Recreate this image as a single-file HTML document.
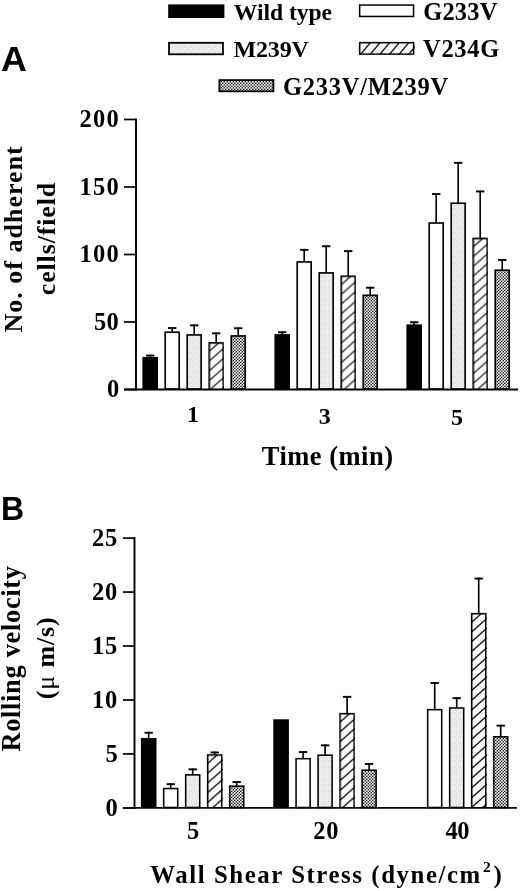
<!DOCTYPE html>
<html><head><meta charset="utf-8"><title>Figure</title>
<style>
html,body{margin:0;padding:0;background:#fff;}
body{width:520px;height:891px;overflow:hidden;font-family:"Liberation Serif",serif;}
svg{display:block;will-change:transform;}
text{fill:#000;}
</style></head><body>
<svg width="520" height="891" viewBox="0 0 520 891">
<defs>
<pattern id="pl" width="2.4" height="2.4" patternUnits="userSpaceOnUse"><rect width="2.4" height="2.4" fill="#fdfdfd"/><circle cx="0.6" cy="0.6" r="0.5" fill="#aaa"/><circle cx="1.8" cy="1.8" r="0.5" fill="#aaa"/></pattern>
<pattern id="pd" width="3" height="3" patternUnits="userSpaceOnUse"><rect width="3" height="3" fill="#242424"/><rect x="0" y="0" width="1.65" height="1.65" fill="#fff"/><rect x="1.5" y="1.5" width="1.65" height="1.65" fill="#fff"/></pattern>
</defs>
<rect width="520" height="891" fill="#fff"/>

<rect x="168.2" y="4.4" width="56.2" height="13.6" fill="#000"/>
<rect x="359.65" y="5.05" width="53.9" height="11.4" fill="#fff" stroke="#000" stroke-width="1.5"/>
<rect x="169.0" y="42.8" width="54.0" height="11.5" fill="url(#pl)" stroke="#000" stroke-width="1.8"/>
<svg x="358.9" y="41.9" width="55.4" height="12.9" viewBox="0 0 55.4 12.9">
<rect width="55.4" height="12.9" fill="#fff"/>
<path d="M-0.29 14.9L13.65 -2M9.31 14.9L23.25 -2M18.91 14.9L32.85 -2M28.51 14.9L42.45 -2M38.11 14.9L52.05 -2M47.71 14.9L61.65 -2M57.31 14.9L71.25 -2M66.91 14.9L80.85 -2" stroke="#000" stroke-width="1.3" fill="none"/>
<rect x="0.75" y="0.75" width="53.9" height="11.4" fill="none" stroke="#000" stroke-width="1.5"/>
</svg>
<rect x="219.4" y="80.1" width="54.0" height="11.2" fill="url(#pd)" stroke="#000" stroke-width="1.8"/>
<text x="233.8" y="19.7" font-size="23.6" font-family='"Liberation Serif", serif' font-weight="bold" letter-spacing="-0.034">Wild type</text>
<text x="423.2" y="19.5" font-size="24.5" font-family='"Liberation Serif", serif' font-weight="bold" letter-spacing="0.173">G233V</text>
<text x="233.4" y="57.1" font-size="24" font-family='"Liberation Serif", serif' font-weight="bold" letter-spacing="-0.138">M239V</text>
<text x="423" y="57.1" font-size="24.5" font-family='"Liberation Serif", serif' font-weight="bold" letter-spacing="0.689">V234G</text>
<text x="283" y="95" font-size="24.5" font-family='"Liberation Serif", serif' font-weight="bold" letter-spacing="0.732">G233V/M239V</text>
<text transform="translate(0.9,70.8) scale(1.035,1)" font-size="34.6" font-family='"Liberation Sans", sans-serif' font-weight="bold">A</text>
<text transform="translate(1.1,520.2) scale(0.95,1)" font-size="33.8" font-family='"Liberation Sans", sans-serif' font-weight="bold">B</text>
<line x1="124" y1="389.5" x2="136" y2="389.5" stroke="#000" stroke-width="1.7"/>
<text x="107.0" y="397.2" font-size="24.5" font-family='"Liberation Serif", serif' font-weight="bold">0</text>
<line x1="124" y1="322.0" x2="136" y2="322.0" stroke="#000" stroke-width="1.7"/>
<text x="94.0" y="329.7" font-size="24.5" font-family='"Liberation Serif", serif' font-weight="bold" letter-spacing="0.25">50</text>
<line x1="124" y1="254.5" x2="136" y2="254.5" stroke="#000" stroke-width="1.7"/>
<text x="79.5" y="262.2" font-size="24.5" font-family='"Liberation Serif", serif' font-weight="bold" letter-spacing="1.25">100</text>
<line x1="124" y1="187.0" x2="136" y2="187.0" stroke="#000" stroke-width="1.7"/>
<text x="79.5" y="194.7" font-size="24.5" font-family='"Liberation Serif", serif' font-weight="bold" letter-spacing="1.25">150</text>
<line x1="124" y1="119.5" x2="136" y2="119.5" stroke="#000" stroke-width="1.7"/>
<text x="79.5" y="127.2" font-size="24.5" font-family='"Liberation Serif", serif' font-weight="bold" letter-spacing="1.25">200</text>
<rect x="142.4" y="356.9" width="15.6" height="32.6" fill="#000"/>
<line x1="150.2" y1="357.4" x2="150.2" y2="354.6" stroke="#000" stroke-width="1.65"/>
<line x1="146.0" y1="355.55" x2="154.4" y2="355.55" stroke="#000" stroke-width="1.9"/>
<rect x="165.22" y="332.22" width="13.95" height="56.88" fill="#fff" stroke="#000" stroke-width="1.65"/>
<line x1="172.2" y1="331.9" x2="172.2" y2="327.1" stroke="#000" stroke-width="1.65"/>
<line x1="168.0" y1="328.05" x2="176.4" y2="328.05" stroke="#000" stroke-width="1.9"/>
<rect x="187.22" y="334.93" width="13.95" height="54.17" fill="url(#pl)" stroke="#000" stroke-width="1.65"/>
<line x1="194.2" y1="334.6" x2="194.2" y2="324.4" stroke="#000" stroke-width="1.65"/>
<line x1="190.0" y1="325.35" x2="198.4" y2="325.35" stroke="#000" stroke-width="1.9"/>
<svg x="208.4" y="342.1" width="15.6" height="47.4" viewBox="0 0 15.6 47.4">
<rect x="0" y="0" width="15.6" height="47.4" fill="#fff"/>
<path d="M-2 -7.77L17.6 -25.11M-2 1.98L17.6 -15.36M-2 11.73L17.6 -5.61M-2 21.48L17.6 4.14M-2 31.23L17.6 13.89M-2 40.98L17.6 23.64M-2 50.73L17.6 33.39M-2 60.48L17.6 43.14M-2 70.23L17.6 52.89" stroke="#000" stroke-width="1.2" fill="none"/>
<rect x="0.825" y="0.825" width="13.95" height="47.4" fill="none" stroke="#000" stroke-width="1.65"/>
</svg>
<line x1="216.2" y1="342.6" x2="216.2" y2="332.4" stroke="#000" stroke-width="1.65"/>
<line x1="212.0" y1="333.35" x2="220.4" y2="333.35" stroke="#000" stroke-width="1.9"/>
<rect x="231.22" y="335.93" width="13.95" height="53.17" fill="url(#pd)" stroke="#000" stroke-width="1.65"/>
<line x1="238.2" y1="335.6" x2="238.2" y2="327.3" stroke="#000" stroke-width="1.65"/>
<line x1="234.0" y1="328.25" x2="242.4" y2="328.25" stroke="#000" stroke-width="1.9"/>
<rect x="274.4" y="334.1" width="15.6" height="55.4" fill="#000"/>
<line x1="282.2" y1="334.6" x2="282.2" y2="331.3" stroke="#000" stroke-width="1.65"/>
<line x1="278.0" y1="332.25" x2="286.4" y2="332.25" stroke="#000" stroke-width="1.9"/>
<rect x="297.22" y="261.93" width="13.95" height="127.17" fill="#fff" stroke="#000" stroke-width="1.65"/>
<line x1="304.2" y1="261.6" x2="304.2" y2="248.9" stroke="#000" stroke-width="1.65"/>
<line x1="300.0" y1="249.85" x2="308.4" y2="249.85" stroke="#000" stroke-width="1.9"/>
<rect x="319.22" y="272.93" width="13.95" height="116.17" fill="url(#pl)" stroke="#000" stroke-width="1.65"/>
<line x1="326.2" y1="272.6" x2="326.2" y2="245.3" stroke="#000" stroke-width="1.65"/>
<line x1="322.0" y1="246.25" x2="330.4" y2="246.25" stroke="#000" stroke-width="1.9"/>
<svg x="340.4" y="275.4" width="15.6" height="114.1" viewBox="0 0 15.6 114.1">
<rect x="0" y="0" width="15.6" height="114.1" fill="#fff"/>
<path d="M-2 -7.77L17.6 -25.11M-2 1.98L17.6 -15.36M-2 11.73L17.6 -5.61M-2 21.48L17.6 4.14M-2 31.23L17.6 13.89M-2 40.98L17.6 23.64M-2 50.73L17.6 33.39M-2 60.48L17.6 43.14M-2 70.23L17.6 52.89M-2 79.98L17.6 62.64M-2 89.73L17.6 72.39M-2 99.48L17.6 82.14M-2 109.23L17.6 91.89M-2 118.98L17.6 101.64M-2 128.73L17.6 111.39" stroke="#000" stroke-width="1.2" fill="none"/>
<rect x="0.825" y="0.825" width="13.95" height="114.1" fill="none" stroke="#000" stroke-width="1.65"/>
</svg>
<line x1="348.2" y1="275.9" x2="348.2" y2="250.2" stroke="#000" stroke-width="1.65"/>
<line x1="344.0" y1="251.15" x2="352.4" y2="251.15" stroke="#000" stroke-width="1.9"/>
<rect x="363.22" y="295.32" width="13.95" height="93.77" fill="url(#pd)" stroke="#000" stroke-width="1.65"/>
<line x1="370.2" y1="295.0" x2="370.2" y2="286.8" stroke="#000" stroke-width="1.65"/>
<line x1="366.0" y1="287.75" x2="374.4" y2="287.75" stroke="#000" stroke-width="1.9"/>
<rect x="406.4" y="324.4" width="15.6" height="65.1" fill="#000"/>
<line x1="414.2" y1="324.9" x2="414.2" y2="321.3" stroke="#000" stroke-width="1.65"/>
<line x1="410.0" y1="322.25" x2="418.4" y2="322.25" stroke="#000" stroke-width="1.9"/>
<rect x="429.22" y="223.02" width="13.95" height="166.08" fill="#fff" stroke="#000" stroke-width="1.65"/>
<line x1="436.2" y1="222.7" x2="436.2" y2="193.1" stroke="#000" stroke-width="1.65"/>
<line x1="432.0" y1="194.05" x2="440.4" y2="194.05" stroke="#000" stroke-width="1.9"/>
<rect x="451.22" y="203.22" width="13.95" height="185.88" fill="url(#pl)" stroke="#000" stroke-width="1.65"/>
<line x1="458.2" y1="202.9" x2="458.2" y2="161.9" stroke="#000" stroke-width="1.65"/>
<line x1="454.0" y1="162.85" x2="462.4" y2="162.85" stroke="#000" stroke-width="1.9"/>
<svg x="472.4" y="237.6" width="15.6" height="151.9" viewBox="0 0 15.6 151.9">
<rect x="0" y="0" width="15.6" height="151.9" fill="#fff"/>
<path d="M-2 -7.77L17.6 -25.11M-2 1.98L17.6 -15.36M-2 11.73L17.6 -5.61M-2 21.48L17.6 4.14M-2 31.23L17.6 13.89M-2 40.98L17.6 23.64M-2 50.73L17.6 33.39M-2 60.48L17.6 43.14M-2 70.23L17.6 52.89M-2 79.98L17.6 62.64M-2 89.73L17.6 72.39M-2 99.48L17.6 82.14M-2 109.23L17.6 91.89M-2 118.98L17.6 101.64M-2 128.73L17.6 111.39M-2 138.48L17.6 121.14M-2 148.23L17.6 130.89M-2 157.98L17.6 140.64M-2 167.73L17.6 150.39" stroke="#000" stroke-width="1.2" fill="none"/>
<rect x="0.825" y="0.825" width="13.95" height="151.9" fill="none" stroke="#000" stroke-width="1.65"/>
</svg>
<line x1="480.2" y1="238.1" x2="480.2" y2="190.5" stroke="#000" stroke-width="1.65"/>
<line x1="476.0" y1="191.45" x2="484.4" y2="191.45" stroke="#000" stroke-width="1.9"/>
<rect x="495.22" y="270.22" width="13.95" height="118.88" fill="url(#pd)" stroke="#000" stroke-width="1.65"/>
<line x1="502.2" y1="269.9" x2="502.2" y2="259.0" stroke="#000" stroke-width="1.65"/>
<line x1="498.0" y1="259.95" x2="506.4" y2="259.95" stroke="#000" stroke-width="1.9"/>
<line x1="136" y1="118.6" x2="136" y2="390.4" stroke="#000" stroke-width="1.9"/>
<line x1="124" y1="389.5" x2="518" y2="389.5" stroke="#000" stroke-width="1.9"/>
<line x1="122.9" y1="807.9" x2="134.5" y2="807.9" stroke="#000" stroke-width="1.7"/>
<text x="105.5" y="815.6" font-size="24.5" font-family='"Liberation Serif", serif' font-weight="bold">0</text>
<line x1="122.9" y1="753.94" x2="134.5" y2="753.94" stroke="#000" stroke-width="1.7"/>
<text x="105.5" y="761.6" font-size="24.5" font-family='"Liberation Serif", serif' font-weight="bold">5</text>
<line x1="122.9" y1="699.98" x2="134.5" y2="699.98" stroke="#000" stroke-width="1.7"/>
<text x="92" y="707.7" font-size="24.5" font-family='"Liberation Serif", serif' font-weight="bold" letter-spacing="0.75">10</text>
<line x1="122.9" y1="646.02" x2="134.5" y2="646.02" stroke="#000" stroke-width="1.7"/>
<text x="92" y="653.7" font-size="24.5" font-family='"Liberation Serif", serif' font-weight="bold" letter-spacing="0.75">15</text>
<line x1="122.9" y1="592.06" x2="134.5" y2="592.06" stroke="#000" stroke-width="1.7"/>
<text x="92" y="599.8" font-size="24.5" font-family='"Liberation Serif", serif' font-weight="bold" letter-spacing="0.75">20</text>
<line x1="122.9" y1="538.1" x2="134.5" y2="538.1" stroke="#000" stroke-width="1.7"/>
<text x="92" y="545.8" font-size="24.5" font-family='"Liberation Serif", serif' font-weight="bold" letter-spacing="0.75">25</text>
<rect x="140.9" y="738.0" width="15.6" height="69.9" fill="#000"/>
<line x1="148.7" y1="738.5" x2="148.7" y2="731.8" stroke="#000" stroke-width="1.65"/>
<line x1="144.5" y1="732.75" x2="152.9" y2="732.75" stroke="#000" stroke-width="1.9"/>
<rect x="163.68" y="788.57" width="14.05" height="18.93" fill="#fff" stroke="#000" stroke-width="1.55"/>
<line x1="170.7" y1="788.3" x2="170.7" y2="783.2" stroke="#000" stroke-width="1.65"/>
<line x1="166.5" y1="784.15" x2="174.9" y2="784.15" stroke="#000" stroke-width="1.9"/>
<rect x="185.68" y="774.88" width="14.05" height="32.62" fill="url(#pl)" stroke="#000" stroke-width="1.55"/>
<line x1="192.7" y1="774.6" x2="192.7" y2="768.4" stroke="#000" stroke-width="1.65"/>
<line x1="188.5" y1="769.35" x2="196.9" y2="769.35" stroke="#000" stroke-width="1.9"/>
<svg x="206.9" y="754.2" width="15.6" height="53.7" viewBox="0 0 15.6 53.7">
<rect x="0" y="0" width="15.6" height="53.7" fill="#fff"/>
<path d="M-2 -7.86L17.6 -25.2M-2 1.89L17.6 -15.45M-2 11.64L17.6 -5.7M-2 21.39L17.6 4.05M-2 31.14L17.6 13.8M-2 40.89L17.6 23.55M-2 50.64L17.6 33.3M-2 60.39L17.6 43.05M-2 70.14L17.6 52.8" stroke="#000" stroke-width="1.2" fill="none"/>
<rect x="0.775" y="0.775" width="14.05" height="53.7" fill="none" stroke="#000" stroke-width="1.55"/>
</svg>
<line x1="214.7" y1="754.7" x2="214.7" y2="751.5" stroke="#000" stroke-width="1.65"/>
<line x1="210.5" y1="752.45" x2="218.9" y2="752.45" stroke="#000" stroke-width="1.9"/>
<rect x="229.68" y="786.17" width="14.05" height="21.33" fill="url(#pd)" stroke="#000" stroke-width="1.55"/>
<line x1="236.7" y1="785.9" x2="236.7" y2="781.1" stroke="#000" stroke-width="1.65"/>
<line x1="232.5" y1="782.05" x2="240.9" y2="782.05" stroke="#000" stroke-width="1.9"/>
<rect x="273.3" y="719.3" width="15.6" height="88.6" fill="#000"/>
<rect x="296.07" y="758.67" width="14.05" height="48.83" fill="#fff" stroke="#000" stroke-width="1.55"/>
<line x1="303.1" y1="758.4" x2="303.1" y2="751.1" stroke="#000" stroke-width="1.65"/>
<line x1="298.9" y1="752.05" x2="307.3" y2="752.05" stroke="#000" stroke-width="1.9"/>
<rect x="318.07" y="755.17" width="14.05" height="52.33" fill="url(#pl)" stroke="#000" stroke-width="1.55"/>
<line x1="325.1" y1="754.9" x2="325.1" y2="744.4" stroke="#000" stroke-width="1.65"/>
<line x1="320.9" y1="745.35" x2="329.3" y2="745.35" stroke="#000" stroke-width="1.9"/>
<svg x="339.3" y="712.9" width="15.6" height="95.0" viewBox="0 0 15.6 95.0">
<rect x="0" y="0" width="15.6" height="95.0" fill="#fff"/>
<path d="M-2 -7.86L17.6 -25.2M-2 1.89L17.6 -15.45M-2 11.64L17.6 -5.7M-2 21.39L17.6 4.05M-2 31.14L17.6 13.8M-2 40.89L17.6 23.55M-2 50.64L17.6 33.3M-2 60.39L17.6 43.05M-2 70.14L17.6 52.8M-2 79.89L17.6 62.55M-2 89.64L17.6 72.3M-2 99.39L17.6 82.05M-2 109.14L17.6 91.8" stroke="#000" stroke-width="1.2" fill="none"/>
<rect x="0.775" y="0.775" width="14.05" height="95.0" fill="none" stroke="#000" stroke-width="1.55"/>
</svg>
<line x1="347.1" y1="713.4" x2="347.1" y2="695.9" stroke="#000" stroke-width="1.65"/>
<line x1="342.9" y1="696.85" x2="351.3" y2="696.85" stroke="#000" stroke-width="1.9"/>
<rect x="362.07" y="770.17" width="14.05" height="37.33" fill="url(#pd)" stroke="#000" stroke-width="1.55"/>
<line x1="369.1" y1="769.9" x2="369.1" y2="763.0" stroke="#000" stroke-width="1.65"/>
<line x1="364.9" y1="763.95" x2="373.3" y2="763.95" stroke="#000" stroke-width="1.9"/>
<rect x="427.67" y="709.67" width="14.05" height="97.82" fill="#fff" stroke="#000" stroke-width="1.55"/>
<line x1="434.7" y1="709.4" x2="434.7" y2="682.1" stroke="#000" stroke-width="1.65"/>
<line x1="430.5" y1="683.05" x2="438.9" y2="683.05" stroke="#000" stroke-width="1.9"/>
<rect x="449.67" y="707.98" width="14.05" height="99.52" fill="url(#pl)" stroke="#000" stroke-width="1.55"/>
<line x1="456.7" y1="707.7" x2="456.7" y2="697.2" stroke="#000" stroke-width="1.65"/>
<line x1="452.5" y1="698.15" x2="460.9" y2="698.15" stroke="#000" stroke-width="1.9"/>
<svg x="470.9" y="612.9" width="15.6" height="195.0" viewBox="0 0 15.6 195.0">
<rect x="0" y="0" width="15.6" height="195.0" fill="#fff"/>
<path d="M-2 -7.86L17.6 -25.2M-2 1.89L17.6 -15.45M-2 11.64L17.6 -5.7M-2 21.39L17.6 4.05M-2 31.14L17.6 13.8M-2 40.89L17.6 23.55M-2 50.64L17.6 33.3M-2 60.39L17.6 43.05M-2 70.14L17.6 52.8M-2 79.89L17.6 62.55M-2 89.64L17.6 72.3M-2 99.39L17.6 82.05M-2 109.14L17.6 91.8M-2 118.89L17.6 101.55M-2 128.64L17.6 111.3M-2 138.39L17.6 121.05M-2 148.14L17.6 130.8M-2 157.89L17.6 140.55M-2 167.64L17.6 150.3M-2 177.39L17.6 160.05M-2 187.14L17.6 169.8M-2 196.89L17.6 179.55M-2 206.64L17.6 189.3M-2 216.39L17.6 199.05" stroke="#000" stroke-width="1.2" fill="none"/>
<rect x="0.775" y="0.775" width="14.05" height="195.0" fill="none" stroke="#000" stroke-width="1.55"/>
</svg>
<line x1="478.7" y1="613.4" x2="478.7" y2="577.6" stroke="#000" stroke-width="1.65"/>
<line x1="474.5" y1="578.55" x2="482.9" y2="578.55" stroke="#000" stroke-width="1.9"/>
<rect x="493.67" y="736.77" width="14.05" height="70.72" fill="url(#pd)" stroke="#000" stroke-width="1.55"/>
<line x1="500.7" y1="736.5" x2="500.7" y2="724.7" stroke="#000" stroke-width="1.65"/>
<line x1="496.5" y1="725.65" x2="504.9" y2="725.65" stroke="#000" stroke-width="1.9"/>
<line x1="134.5" y1="537.2" x2="134.5" y2="808.8" stroke="#000" stroke-width="1.9"/>
<line x1="122.9" y1="807.9" x2="517" y2="807.9" stroke="#000" stroke-width="1.9"/>
<text x="186.9" y="422.2" font-size="24" font-family='"Liberation Serif", serif' font-weight="bold">1</text>
<text x="318.8" y="423.7" font-size="24" font-family='"Liberation Serif", serif' font-weight="bold">3</text>
<text x="450.9" y="425.2" font-size="24" font-family='"Liberation Serif", serif' font-weight="bold">5</text>
<text x="261.7" y="464.8" font-size="26.5" font-family='"Liberation Serif", serif' font-weight="bold" letter-spacing="0.498">Time (min)</text>
<text x="186.9" y="839.4" font-size="24.5" font-family='"Liberation Serif", serif' font-weight="bold">5</text>
<text x="313.2" y="839" font-size="24.5" font-family='"Liberation Serif", serif' font-weight="bold" letter-spacing="0.75">20</text>
<text x="445.5" y="838.6" font-size="24.5" font-family='"Liberation Serif", serif' font-weight="bold" letter-spacing="-0.55">40</text>
<text x="150.2" y="883" font-size="24.8" font-family='"Liberation Serif", serif' font-weight="bold" letter-spacing="1.582">Wall Shear Stress (dyne/cm</text>
<text x="482.9" y="872.0" font-size="15.5" font-family='"Liberation Serif", serif' font-weight="bold">2</text>
<text x="493.5" y="883" font-size="24.8" font-family='"Liberation Serif", serif' font-weight="bold">)</text>
<text transform="translate(22.2,332.5) rotate(-90)" x="0" y="0" font-size="26" font-family='"Liberation Serif", serif' font-weight="bold" letter-spacing="1.01">No. of adherent</text>
<text transform="translate(55.0,295.2) rotate(-90)" x="0" y="0" font-size="26" font-family='"Liberation Serif", serif' font-weight="bold" letter-spacing="0.839">cells/field</text>
<text transform="translate(20.4,751.6) rotate(-90)" x="0" y="0" font-size="26.5" font-family='"Liberation Serif", serif' font-weight="bold" letter-spacing="0.649">Rolling velocity</text>
<text transform="translate(53.5,698.2) rotate(-90)" x="-1" y="0" font-size="26" font-family='"Liberation Serif", serif' font-weight="bold" letter-spacing="0.834">(<tspan font-weight="normal">μ</tspan> m/s)</text>
</svg></body></html>
